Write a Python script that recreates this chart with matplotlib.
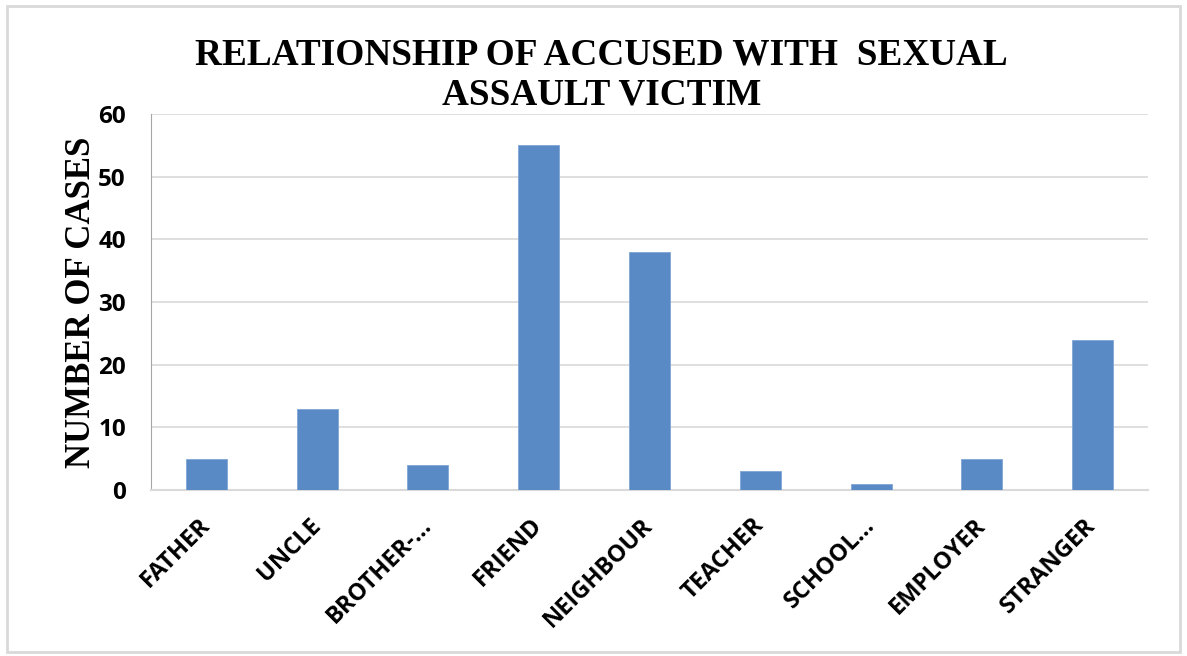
import matplotlib
matplotlib.use("Agg")
import matplotlib.pyplot as plt
import matplotlib.patches as patches

categories = ["FATHER", "UNCLE", "BROTHER-...", "FRIEND", "NEIGHBOUR",
              "TEACHER", "SCHOOL...", "EMPLOYER", "STRANGER"]
cases = [5, 13, 4, 55, 38, 3, 1, 5, 24]
yticks = [0, 10, 20, 30, 40, 50, 60]

W, H = 1187, 656
fig = plt.figure(figsize=(W / 100, H / 100), dpi=100)
fig.patch.set_facecolor("white")

# outer frame of the chart
fig.add_artist(patches.Rectangle((7 / W, 1 - 652 / H), (1180 - 7) / W, (652 - 6) / H,
                                 transform=fig.transFigure, fill=False,
                                 edgecolor="#d9d9d9", linewidth=2))

ax = fig.add_axes([151 / W, 1 - 490 / H, (1148 - 151) / W, (490 - 114) / H])
x = range(len(categories))
ax.bar(x, cases, width=0.37, color="#5a8ac6", edgecolor="#7fa6d6", linewidth=0.6, zorder=3)

ax.set_xlim(-0.5, len(categories) - 0.5)
ax.set_ylim(0, 60)
ax.set_yticks(yticks)
ax.yaxis.grid(True, color="#d9d9d9", linewidth=1.2, zorder=0)
ax.set_axisbelow(True)
for s in ["top", "right"]:
    ax.spines[s].set_visible(False)
ax.spines["left"].set_color("#a6a6a6")
ax.spines["bottom"].set_color("#d9d9d9")
ax.spines["bottom"].set_linewidth(1.5)
ax.tick_params(length=0)

ax.set_yticklabels([str(v) for v in yticks], fontsize=17.5, fontweight="bold",
                   family="Open Sans")
ax.tick_params(axis="y", pad=18)
ax.set_xticks(list(x))
ax.set_xticklabels(categories, rotation=45, ha="right", va="center",
                   rotation_mode="anchor", fontsize=17, fontweight="bold",
                   family="Open Sans")
ax.tick_params(axis="x", pad=23)

ax.set_ylabel("NUMBER OF CASES", family="Liberation Serif", fontweight="bold",
              fontsize=25, labelpad=0)

fig.text(0.507, 1 - 75 / H, "RELATIONSHIP OF ACCUSED WITH  SEXUAL\nASSAULT VICTIM",
         ha="center", va="center", family="Liberation Serif", fontweight="bold",
         fontsize=26.8, linespacing=1.17)

fig.savefig("out.png", dpi=100, facecolor="white")
